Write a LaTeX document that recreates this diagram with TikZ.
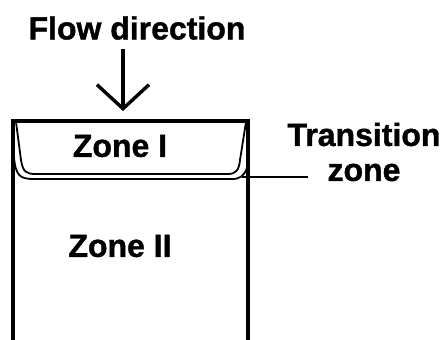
\documentclass[tikz,border=0pt]{standalone}
\usepackage{fontspec}
\setmainfont{Liberation Sans}[BoldFeatures={FakeBold=1.2}]
\usetikzlibrary{arrows.meta}
\begin{document}
\begin{tikzpicture}[x=1pt,y=-1pt,
  lbl/.style={font=\bfseries\fontsize{32}{35}\selectfont, inner sep=0pt},
  wall/.style={line width=3.6pt},
  thin/.style={line width=1.8pt}]
\useasboundingbox (0,0) rectangle (445,340);
% labels
\node[lbl] (flow) at (137,28) {Flow direction};
\node[lbl] (z1) at (120,146) {Zone I};
\node[lbl] (z2) at (120,246) {Zone II};
\node[lbl, align=center] (tz) at (364,152) {Transition\\zone};
% arrow
\coordinate (as) at (123,49);
\coordinate (at) at (123,111);
\draw[line width=3.4pt,-{Straight Barb[length=24pt,width=52pt,line width=3.4pt]}] (as) -- (at);
% column walls
\coordinate (tl) at (13,121);
\coordinate (tr) at (248,121);
\coordinate (bl) at (13,341);
\coordinate (br) at (248,341);
\draw[wall] (bl) -- (tl) -- (tr) -- (br);
% zone I boundary (inner)
\draw[thin] (16,122) -- (21,160) .. controls (23,172) and (26,174) .. (36,174)
  -- (228,174) .. controls (236,174) and (239,170) .. (240,160) -- (246,122);
% transition zone lower boundary
\draw[thin] (14,158) .. controls (16,176) and (20,179) .. (34,179)
  -- (232,179) .. controls (240,179) and (244,176) .. (247,168);
% leader
\coordinate (ls) at (242,177);
\coordinate (le) at (308,177);
\draw[line width=2.2pt] (ls) -- (le);
\end{tikzpicture}
\end{document}
